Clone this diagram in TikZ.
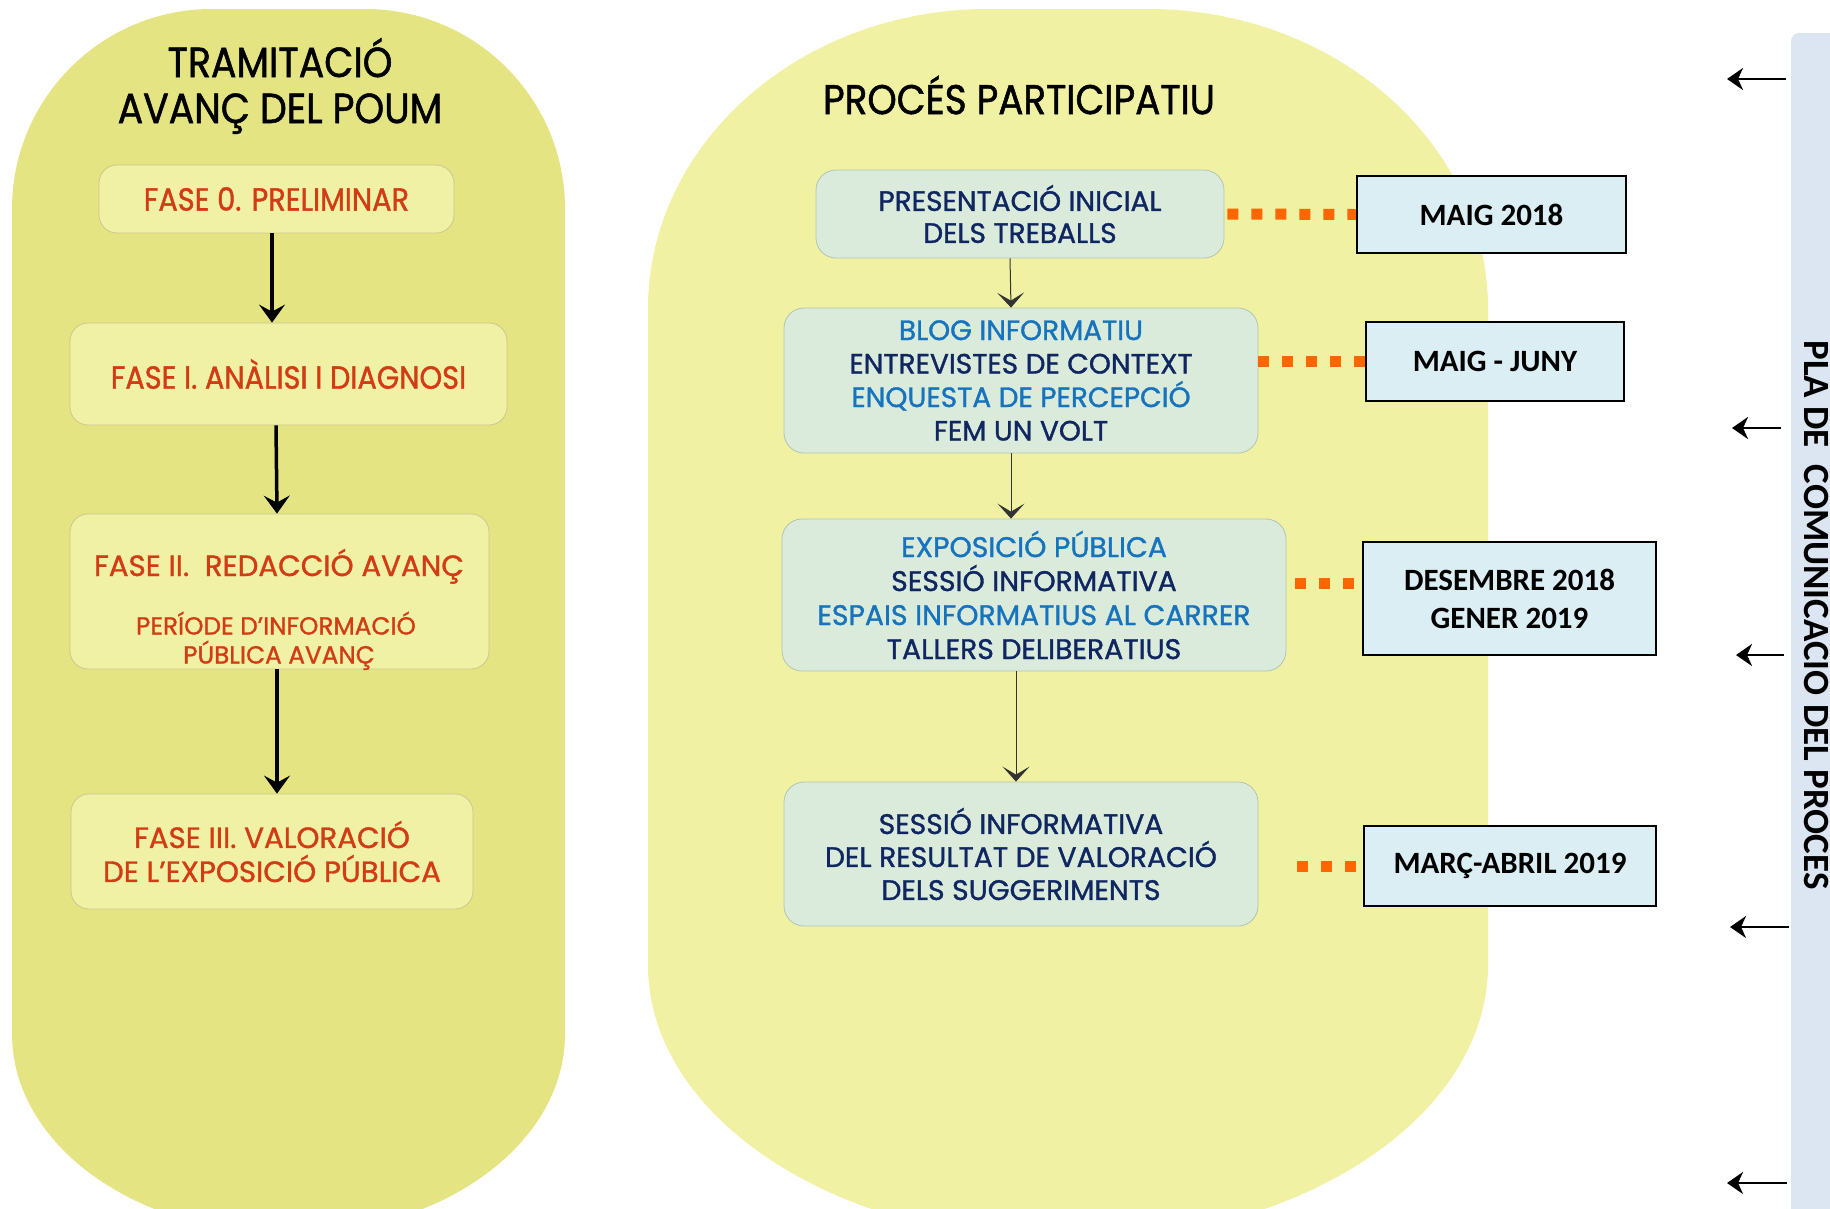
\documentclass[tikz,border=0pt]{standalone}
\usepackage{fontspec}
\newfontfamily\twfont[FakeStretch=0.9,FakeBold=1.2]{Poppins}
\newfontfamily\gothfont[FakeBold=1.2]{Poppins}
\newfontfamily\calfont{Carlito}
\usetikzlibrary{arrows.meta}
\definecolor{leftfill}{HTML}{E4E482}
\definecolor{lboxfill}{HTML}{F1F1A6}
\definecolor{lboxline}{HTML}{C8C88E}
\definecolor{rightfill}{HTML}{F1F1A4}
\definecolor{bboxfill}{HTML}{DAEBDC}
\definecolor{bboxline}{HTML}{B2C4B2}
\definecolor{navyc}{HTML}{0F2660}
\definecolor{lblue}{HTML}{1673BE}
\definecolor{redc}{HTML}{D23C14}
\definecolor{datefill}{HTML}{DAEEF3}
\definecolor{bandfill}{HTML}{DCE6F2}
\definecolor{dotorange}{HTML}{FF6600}
\tikzset{
  lbox/.style={draw=lboxline, fill=lboxfill, rounded corners=18pt, line width=0.8pt, inner sep=0pt, align=center, text=redc},
  bbox/.style={draw=bboxline, fill=bboxfill, rounded corners=20pt, line width=0.8pt, inner sep=0pt, align=center, text=navyc},
  dbox/.style={draw=black, fill=datefill, line width=2.3pt, inner sep=0pt, align=center, font=\calfont\bfseries\fontsize{31}{38}\selectfont},
  titlefont/.style={font=\twfont\fontsize{42}{46}\selectfont},
  titlefontb/.style={font=\twfont\fontsize{41.5}{46}\selectfont},
  twred/.style={font=\twfont\fontsize{32}{35}\selectfont},
  gothbig/.style={font=\gothfont\fontsize{29.3}{34}\selectfont},
  gothsmall/.style={font=\gothfont\fontsize{24.7}{29}\selectfont, text=redc},
  bluea/.style={font=\gothfont\fontsize{28}{32}\selectfont},
  blueb/.style={font=\gothfont\fontsize{28}{33.5}\selectfont},
  bluec/.style={font=\gothfont\fontsize{28.3}{34}\selectfont},
  blued/.style={font=\gothfont\fontsize{28.2}{33}\selectfont},
  thickarrow/.style={line width=3.5pt, -{Stealth[length=18pt,width=26pt,inset=7pt]}},
  thinarrow/.style={line width=1pt, draw=black!80, -{Stealth[length=15pt,width=27pt,inset=8pt]}},
  sidearrow/.style={line width=2.5pt, -{Stealth[length=16pt,width=22pt,inset=5pt]}},
  orangedots/.style={draw=dotorange, line width=11pt, dash pattern=on 11pt off 13pt},
}
\begin{document}
\begin{tikzpicture}[x=1pt,y=-1pt]
\useasboundingbox (0,0) rectangle (1830,1208);
\clip (0,0) rectangle (1830,1208);
\fill[white] (0,0) rectangle (1830,1208);

% left container
\fill[leftfill] (12,209) .. controls (12,98.5) and (101.5,9) .. (212,9) -- (365,9)
  .. controls (475.5,9) and (565,98.5) .. (565,209) -- (565,1034)
  .. controls (565,1144.5) and (441.2,1234) .. (288.5,1234)
  .. controls (135.8,1234) and (12,1144.5) .. (12,1034) -- cycle;

% right container
\fill[rightfill] (648,309) .. controls (648,143.3) and (800.2,9) .. (988,9) -- (1148,9)
  .. controls (1335.8,9) and (1488,143.3) .. (1488,309) -- (1488,965)
  .. controls (1488,1117.4) and (1300,1241) .. (1068,1241)
  .. controls (836,1241) and (648,1117.4) .. (648,965) -- cycle;

% right band
\fill[bandfill, rounded corners=8pt] (1791,33) rectangle (1850,1240);

% titles
\node[titlefont, align=center] (tleft) at (280,86) {TRAMITACIÓ\\AVANÇ DEL POUM};
\node[titlefontb] (tright) at (1019,95) {PROCÉS PARTICIPATIU};

% left boxes
\node[lbox, twred, minimum width=355pt, minimum height=68pt] (f0) at (276.5,199) {FASE 0. PRELIMINAR};
\node[lbox, twred, minimum width=437pt, minimum height=102pt] (f1) at (288.5,374) {FASE I. ANÀLISI I DIAGNOSI};
\node[lbox, minimum width=419pt, minimum height=155pt] (f2) at (279.5,591.5) {};
\node[gothbig, text=redc, anchor=base] (f2a) at (279,576) {FASE II.\ \ REDACCIÓ AVANÇ};
\node[gothsmall, anchor=base] (f2b) at (276,634.5) {PERÍODE D’INFORMACIÓ};
\node[gothsmall, anchor=base] (f2c) at (279,663.5) {PÚBLICA AVANÇ};
\node[lbox, gothbig, minimum width=402pt, minimum height=115pt] (f3) at (272,851.5) {FASE III. VALORACIÓ\\DE L’EXPOSICIÓ PÚBLICA};

\draw[thickarrow] ([xshift=-4.5pt]f0.south) -- ([xshift=-16.5pt]f1.north);
\draw[thickarrow] ([xshift=-12.5pt]f1.south) -- ([xshift=-2.5pt]f2.north);
\draw[thickarrow] ([xshift=-2.5pt]f2.south) -- ([xshift=5pt]f3.north);

% participation boxes
\node[bbox, bluea, minimum width=408pt, minimum height=88pt] (p1) at (1020,214) {PRESENTACIÓ INICIAL\\DELS TREBALLS};
\node[bbox, blueb, minimum width=474pt, minimum height=145pt] (p2) at (1021,380.5)
  {\textcolor{lblue}{BLOG INFORMATIU}\\ENTREVISTES DE CONTEXT\\\textcolor{lblue}{ENQUESTA DE PERCEPCIÓ}\\FEM UN VOLT};
\node[bbox, bluec, minimum width=504pt, minimum height=152pt] (p3) at (1034,595)
  {\textcolor{lblue}{EXPOSICIÓ PÚBLICA}\\SESSIÓ INFORMATIVA\\\textcolor{lblue}{ESPAIS INFORMATIUS AL CARRER}\\TALLERS DELIBERATIUS};
\node[bbox, blued, minimum width=474pt, minimum height=144pt] (p4) at (1021,854)
  {SESSIÓ INFORMATIVA\\DEL RESULTAT DE VALORACIÓ\\DELS SUGGERIMENTS};

\draw[thinarrow] ([xshift=-10pt]p1.south) -- ([xshift=-10pt]p2.north);
\draw[thinarrow] ([xshift=-10pt]p2.south) -- ([xshift=-23pt]p3.north);
\draw[thinarrow] ([xshift=-18pt]p3.south) -- ([xshift=-5pt]p4.north);

% date boxes
\node[dbox, minimum width=269pt, minimum height=77pt] (d1) at (1491.5,214.5) {MAIG 2018};
\node[dbox, minimum width=258pt, minimum height=79pt] (d2) at (1495,361.5) {MAIG - JUNY};
\node[dbox, minimum width=293pt, minimum height=113pt] (d3) at (1509.5,598.5) {DESEMBRE 2018\\GENER 2019};
\node[dbox, minimum width=292pt, minimum height=80pt] (d4) at (1510,866) {MARÇ-ABRIL 2019};

% orange dotted connectors
\draw[orangedots] ([xshift=3pt]p1.east) -- (d1.west);
\draw[orangedots] (p2.east |- d2.west) -- (d2.west);
\draw[orangedots] ([xshift=9pt,yshift=12pt]p3.east) -- ([yshift=15.5pt]d3.west);
\draw[orangedots] ([xshift=39pt]p4.east |- d4.west) -- (d4.west);

% band text
\node[rotate=-90, font=\calfont\bfseries\fontsize{37}{44}\selectfont] (band) at (1816,615) {PLA DE\ \ COMUNICACIO DEL PROCES};

% side arrows
\coordinate (r1s) at (1786,79);  \coordinate (r1e) at (1727,79);
\coordinate (r2s) at (1781,428); \coordinate (r2e) at (1732,428);
\coordinate (r3s) at (1784,655); \coordinate (r3e) at (1736,655);
\coordinate (r4s) at (1789,927); \coordinate (r4e) at (1730,927);
\coordinate (r5s) at (1787,1183); \coordinate (r5e) at (1727,1183);
\draw[sidearrow] (r1s) -- (r1e);
\draw[sidearrow] (r2s) -- (r2e);
\draw[sidearrow] (r3s) -- (r3e);
\draw[sidearrow] (r4s) -- (r4e);
\draw[sidearrow] (r5s) -- (r5e);
\end{tikzpicture}
\end{document}
